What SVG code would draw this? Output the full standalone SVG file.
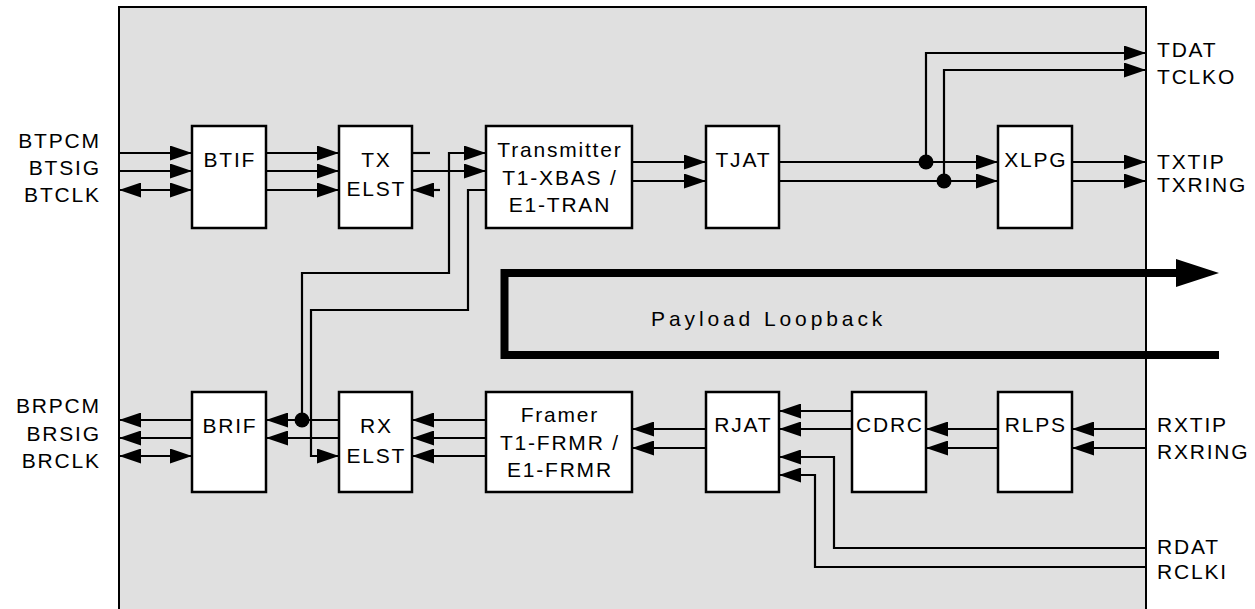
<svg xmlns="http://www.w3.org/2000/svg" width="1255" height="609" viewBox="0 0 1255 609">
<style>
text{font-family:"Liberation Sans",Arial,Helvetica,sans-serif;font-size:21px;fill:#000;letter-spacing:1.8px}
.c{text-anchor:middle}
.e{text-anchor:end}
.blk{fill:#fff;stroke:#000;stroke-width:2.5}
.w{fill:none;stroke:#000;stroke-width:2.2}
.a{marker-end:url(#ah)}
.b{marker-start:url(#ah);marker-end:url(#ah)}
</style>
<defs>
<marker id="ah" viewBox="0 0 22 15" refX="22" refY="7.5" markerWidth="22" markerHeight="15" markerUnits="userSpaceOnUse" orient="auto-start-reverse">
<path d="M0,0 L22,7.5 L0,15 z" fill="#000"/>
</marker>
</defs>
<rect width="1255" height="609" fill="#fff"/>
<rect id="chip" x="119" y="7" width="1027" height="630" fill="#e0e0e0" stroke="#000" stroke-width="2"/>

<g id="connectors">
<path class="w a" d="M119,153H192"/>
<path class="w a" d="M119,171H192"/>
<path class="w b" d="M119,190H192"/>
<path class="w a" d="M266,153H339"/>
<path class="w a" d="M266,171H339"/>
<path class="w a" d="M266,190H339"/>
<path class="w" d="M412,153H430"/>
<path class="w a" d="M412,171H486"/>
<path class="w a" d="M440,190H412"/>
<path class="w a" d="M302,421V273H449V153H486"/>
<path class="w a" d="M486,190H468V310H311V456H339"/>
<path class="w a" d="M632,162H706"/>
<path class="w a" d="M632,181H706"/>
<path class="w a" d="M779,162H998"/>
<path class="w a" d="M779,181H998"/>
<path class="w a" d="M926,162V53H1146"/>
<path class="w a" d="M944,181V70H1146"/>
<circle cx="926" cy="162" r="7.5"/>
<circle cx="944" cy="181" r="7.5"/>
<path class="w a" d="M1072,162H1146"/>
<path class="w a" d="M1072,181H1146"/>

<path class="w a" d="M192,420H119"/>
<path class="w a" d="M192,438H119"/>
<path class="w b" d="M119,456H192"/>
<path class="w a" d="M339,420H266"/>
<path class="w a" d="M339,438H266"/>
<circle cx="302" cy="420" r="7.5"/>
<path class="w a" d="M486,420H412"/>
<path class="w a" d="M486,438H412"/>
<path class="w a" d="M486,456H412"/>
<path class="w a" d="M706,429H632"/>
<path class="w a" d="M706,448H632"/>
<path class="w a" d="M852,411H779"/>
<path class="w a" d="M852,429H779"/>
<path class="w a" d="M1146,548H834V457H779"/>
<path class="w a" d="M1146,567H815V475H779"/>
<path class="w a" d="M998,429H926"/>
<path class="w a" d="M998,448H926"/>
<path class="w a" d="M1146,429H1072"/>
<path class="w a" d="M1146,448H1072"/>

<path d="M1219,355H504.5V273H1180" fill="none" stroke="#000" stroke-width="8"/>
<path d="M1176,259L1219,273L1176,287z" fill="#000"/>
</g>

<g id="BTIF"><rect class="blk" x="192" y="126" width="74" height="102"/><text class="c" x="229.9" y="167">BTIF</text></g>
<g id="TXELST"><rect class="blk" x="339" y="126" width="73" height="102"/><text class="c" x="376.4" y="167">TX</text><text class="c" x="376.4" y="195.5">ELST</text></g>
<g id="Transmitter"><rect class="blk" x="486" y="126" width="146" height="102"/><text class="c" x="559.9" y="157">Transmitter</text><text class="c" x="559.9" y="184.5">T1-XBAS /</text><text class="c" x="559.9" y="212">E1-TRAN</text></g>
<g id="TJAT"><rect class="blk" x="706" y="126" width="73" height="102"/><text class="c" x="743.4" y="167">TJAT</text></g>
<g id="XLPG"><rect class="blk" x="998" y="126" width="74" height="102"/><text class="c" x="1035.9" y="167">XLPG</text></g>

<g id="BRIF"><rect class="blk" x="192" y="392" width="74" height="100"/><text class="c" x="229.9" y="433">BRIF</text></g>
<g id="RXELST"><rect class="blk" x="339" y="392" width="73" height="100"/><text class="c" x="376.4" y="433">RX</text><text class="c" x="376.4" y="462.5">ELST</text></g>
<g id="Framer"><rect class="blk" x="486" y="392" width="146" height="100"/><text class="c" x="559.9" y="422">Framer</text><text class="c" x="559.9" y="449.5">T1-FRMR /</text><text class="c" x="559.9" y="477">E1-FRMR</text></g>
<g id="RJAT"><rect class="blk" x="706" y="392" width="73" height="100"/><text class="c" x="743.4" y="432">RJAT</text></g>
<g id="CDRC"><rect class="blk" x="852" y="392" width="74" height="100"/><text class="c" x="889.9" y="432">CDRC</text></g>
<g id="RLPS"><rect class="blk" x="998" y="392" width="74" height="100"/><text class="c" x="1035.9" y="432">RLPS</text></g>

<g id="labels">
<text class="e" x="100.8" y="148">BTPCM</text>
<text class="e" x="100.8" y="175">BTSIG</text>
<text class="e" x="100.8" y="202">BTCLK</text>
<text class="e" x="100.8" y="413">BRPCM</text>
<text class="e" x="100.8" y="441">BRSIG</text>
<text class="e" x="100.8" y="468">BRCLK</text>
<text x="1157" y="57">TDAT</text>
<text x="1157" y="84">TCLKO</text>
<text x="1157" y="169">TXTIP</text>
<text x="1157" y="192">TXRING</text>
<text x="1157" y="432">RXTIP</text>
<text x="1157" y="459">RXRING</text>
<text x="1157" y="554">RDAT</text>
<text x="1157" y="579">RCLKI</text>
<text x="651" y="326" style="letter-spacing:3.9px">Payload Loopback</text>
</g>
</svg>
